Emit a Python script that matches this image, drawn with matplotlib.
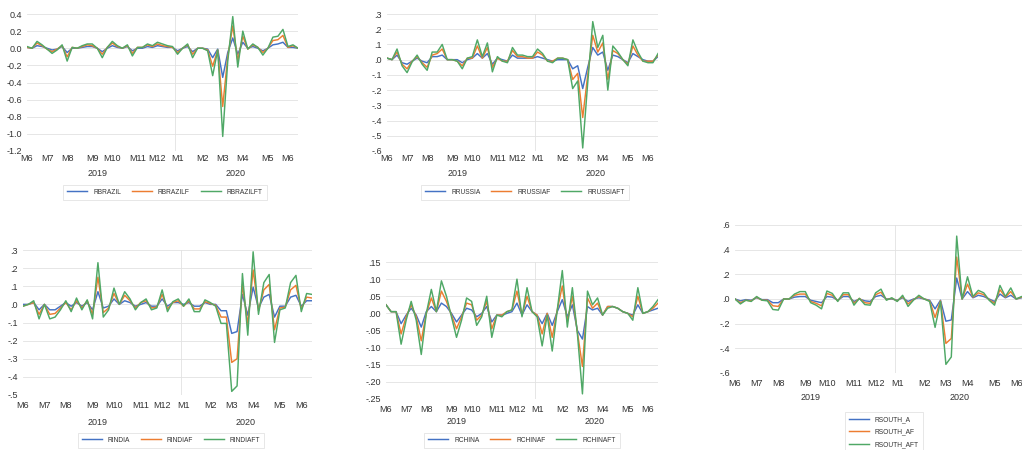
import matplotlib
matplotlib.use("Agg")
import matplotlib.pyplot as plt
import pandas as pd

plt.rcParams["font.family"] = ["Liberation Sans", "DejaVu Sans"]

# Weekly observations (Thursdays), June 2019 to June 2020
weeks = pd.date_range("2019-06-06", periods=55, freq="7D")

COLORS = ["#4472C4", "#ED7D31", "#4FA866"]
TEXT = "#333333"
GRID = "#e2e2e2"

# --- Brazil -------------------------------------------------------------
rbrazil = [
    0.01, 0.00, 0.03, 0.02, 0.00, -0.02, -0.01, 0.02, -0.05, 0.00,
    0.00, 0.01, 0.02, 0.02, 0.00, -0.04, 0.00, 0.03, 0.01, 0.00,
    0.02, -0.03, 0.00, 0.00, 0.02, 0.01, 0.03, 0.02, 0.01, 0.01,
    -0.03, 0.00, 0.02, -0.04, 0.00, 0.00, -0.01, -0.11, -0.01, -0.34,
    -0.05, 0.12, -0.07, 0.07, 0.00, 0.02, 0.00, -0.03, 0.00, 0.04,
    0.05, 0.07, 0.01, 0.01, 0.00,
]
rbrazilf = [
    0.01, 0.00, 0.06, 0.03, -0.01, -0.04, -0.01, 0.03, -0.10, 0.01,
    0.00, 0.02, 0.04, 0.03, 0.00, -0.07, 0.01, 0.06, 0.02, 0.00,
    0.03, -0.06, 0.01, 0.01, 0.04, 0.02, 0.05, 0.03, 0.02, 0.01,
    -0.05, 0.00, 0.04, -0.07, 0.00, 0.00, -0.02, -0.21, -0.02, -0.68,
    -0.10, 0.26, -0.14, 0.14, -0.01, 0.04, 0.01, -0.05, 0.00, 0.09,
    0.10, 0.15, 0.01, 0.03, 0.00,
]
rbrazilft = [
    0.02, 0.00, 0.08, 0.04, -0.01, -0.06, -0.02, 0.04, -0.15, 0.01,
    0.00, 0.03, 0.05, 0.05, 0.00, -0.11, 0.01, 0.08, 0.03, 0.00,
    0.04, -0.09, 0.01, 0.01, 0.05, 0.03, 0.07, 0.05, 0.03, 0.02,
    -0.07, 0.00, 0.05, -0.11, 0.00, 0.00, -0.03, -0.32, -0.02, -1.03,
    -0.15, 0.37, -0.22, 0.20, -0.01, 0.05, 0.01, -0.08, 0.00, 0.13,
    0.14, 0.22, 0.02, 0.04, 0.00,
]

# --- Russia -------------------------------------------------------------
rrussia = [
    0.01, 0.00, 0.03, -0.02, -0.03, -0.01, 0.01, -0.01, -0.02, 0.02,
    0.02, 0.03, 0.00, 0.00, 0.00, -0.02, 0.00, 0.01, 0.04, 0.01,
    0.04, -0.03, 0.01, 0.00, -0.01, 0.03, 0.01, 0.01, 0.01, 0.01,
    0.02, 0.01, 0.00, -0.01, 0.00, 0.00, 0.00, -0.06, -0.04, -0.19,
    -0.05, 0.08, 0.03, 0.05, -0.07, 0.03, 0.02, 0.00, -0.02, 0.04,
    0.02, 0.00, -0.01, -0.01, 0.02,
]
rrussiaf = [
    0.01, 0.00, 0.05, -0.03, -0.06, -0.01, 0.02, -0.02, -0.05, 0.03,
    0.04, 0.07, 0.00, 0.00, -0.01, -0.04, 0.01, 0.01, 0.09, 0.01,
    0.08, -0.05, 0.01, -0.01, -0.01, 0.06, 0.02, 0.02, 0.01, 0.01,
    0.05, 0.03, -0.01, -0.01, 0.01, 0.01, 0.00, -0.13, -0.09, -0.38,
    -0.10, 0.16, 0.05, 0.11, -0.13, 0.06, 0.04, 0.00, -0.03, 0.09,
    0.03, -0.01, -0.01, -0.01, 0.03,
]
rrussiaft = [
    0.01, 0.00, 0.07, -0.04, -0.085, -0.015, 0.03, -0.03, -0.07, 0.05,
    0.05, 0.10, 0.00, 0.00, -0.01, -0.06, 0.01, 0.02, 0.13, 0.02,
    0.11, -0.08, 0.02, -0.01, -0.02, 0.08, 0.03, 0.03, 0.02, 0.02,
    0.07, 0.04, -0.01, -0.02, 0.01, 0.01, 0.00, -0.19, -0.14, -0.58,
    -0.15, 0.25, 0.08, 0.16, -0.20, 0.09, 0.05, 0.00, -0.04, 0.13,
    0.05, -0.01, -0.02, -0.02, 0.04,
]

# --- India --------------------------------------------------------------
rindia = [
    0.00, 0.00, 0.01, -0.03, 0.00, -0.03, -0.03, -0.01, 0.01, -0.01,
    0.01, -0.01, 0.01, -0.03, 0.07, -0.02, -0.01, 0.03, 0.00, 0.02,
    0.01, -0.01, 0.00, 0.01, -0.01, -0.01, 0.03, -0.01, 0.01, 0.01,
    0.00, 0.01, -0.01, -0.01, 0.01, 0.00, 0.00, -0.035, -0.035, -0.16,
    -0.15, 0.055, -0.06, 0.095, -0.02, 0.04, 0.055, -0.07, -0.01, -0.01,
    0.04, 0.05, -0.01, 0.02, 0.02,
]
rindiaf = [
    -0.01, 0.00, 0.01, -0.055, 0.00, -0.055, -0.05, -0.02, 0.01, -0.03,
    0.02, -0.02, 0.02, -0.055, 0.15, -0.045, -0.02, 0.06, 0.00, 0.05,
    0.02, -0.02, 0.01, 0.02, -0.02, -0.015, 0.055, -0.025, 0.01, 0.02,
    -0.01, 0.02, -0.025, -0.025, 0.015, 0.005, -0.005, -0.07, -0.07, -0.32,
    -0.30, 0.11, -0.11, 0.19, -0.035, 0.08, 0.11, -0.14, -0.02, -0.015,
    0.08, 0.105, -0.025, 0.04, 0.035,
]
rindiaft = [
    -0.01, 0.00, 0.02, -0.08, 0.00, -0.08, -0.07, -0.03, 0.02, -0.04,
    0.035, -0.03, 0.025, -0.08, 0.23, -0.07, -0.03, 0.09, 0.00, 0.07,
    0.03, -0.03, 0.01, 0.03, -0.03, -0.02, 0.08, -0.04, 0.015, 0.03,
    -0.01, 0.03, -0.04, -0.04, 0.025, 0.01, -0.01, -0.105, -0.105, -0.48,
    -0.45, 0.17, -0.17, 0.29, -0.055, 0.12, 0.165, -0.21, -0.03, -0.02,
    0.12, 0.16, -0.04, 0.06, 0.055,
]

# --- China --------------------------------------------------------------
rchina = [
    0.025, 0.005, 0.005, -0.03, -0.005, 0.015, -0.005, -0.04, 0.005, 0.02,
    0.005, 0.03, 0.02, 0.00, -0.025, -0.005, 0.015, 0.01, -0.01, 0.00,
    0.02, -0.025, -0.005, -0.005, 0.00, 0.005, 0.03, -0.005, 0.025, 0.005,
    -0.005, -0.03, 0.00, -0.035, 0.005, 0.04, -0.01, 0.025, -0.05, -0.075,
    0.02, 0.01, 0.015, -0.005, 0.02, 0.02, 0.015, 0.005, 0.00, -0.005,
    0.025, 0.00, 0.005, 0.01, 0.015,
]
rchinaf = [
    0.025, 0.005, 0.005, -0.06, -0.01, 0.025, -0.01, -0.08, 0.00, 0.045,
    0.005, 0.065, 0.035, -0.005, -0.045, -0.01, 0.03, 0.025, -0.02, -0.005,
    0.035, -0.045, -0.005, -0.005, 0.005, 0.01, 0.065, -0.005, 0.05, 0.005,
    -0.005, -0.06, 0.00, -0.07, 0.01, 0.08, -0.025, 0.05, -0.055, -0.155,
    0.045, 0.015, 0.03, -0.005, 0.02, 0.02, 0.015, 0.005, 0.00, -0.01,
    0.05, 0.00, 0.005, 0.015, 0.03,
]
rchinaft = [
    0.025, 0.005, 0.005, -0.09, -0.02, 0.035, -0.02, -0.12, 0.00, 0.07,
    0.005, 0.095, 0.05, -0.01, -0.07, -0.02, 0.045, 0.035, -0.035, -0.01,
    0.05, -0.07, -0.005, -0.01, 0.005, 0.01, 0.10, -0.01, 0.075, 0.005,
    -0.01, -0.095, -0.005, -0.11, 0.01, 0.125, -0.04, 0.075, -0.06, -0.235,
    0.065, 0.025, 0.045, -0.005, 0.015, 0.02, 0.015, 0.005, 0.00, -0.02,
    0.075, 0.00, 0.005, 0.02, 0.04,
]

# --- South Africa -------------------------------------------------------
rsouth_a = [
    0.00, -0.015, -0.005, -0.01, 0.01, -0.005, -0.005, -0.03, -0.03, 0.00,
    0.00, 0.015, 0.02, 0.02, -0.01, -0.02, -0.03, 0.02, 0.015, -0.01,
    0.02, 0.02, -0.02, 0.00, -0.015, -0.02, 0.02, 0.03, 0.00, 0.00,
    -0.01, 0.01, -0.02, 0.00, 0.01, 0.00, -0.01, -0.08, -0.01, -0.18,
    -0.17, 0.17, 0.00, 0.06, 0.01, 0.03, 0.02, 0.00, -0.02, 0.04,
    0.01, 0.03, 0.00, 0.01, 0.01,
]
rsouth_af = [
    0.00, -0.03, -0.01, -0.015, 0.015, -0.01, -0.01, -0.055, -0.06, 0.00,
    0.00, 0.03, 0.04, 0.04, -0.02, -0.035, -0.055, 0.045, 0.03, -0.015,
    0.035, 0.035, -0.035, 0.005, -0.03, -0.035, 0.035, 0.055, -0.005, 0.005,
    -0.015, 0.02, -0.04, -0.005, 0.02, 0.00, -0.015, -0.15, -0.015, -0.36,
    -0.32, 0.34, 0.00, 0.12, 0.015, 0.05, 0.035, -0.005, -0.035, 0.075,
    0.015, 0.06, 0.00, 0.015, 0.015,
]
rsouth_aft = [
    0.00, -0.04, -0.01, -0.02, 0.02, -0.01, -0.015, -0.085, -0.09, 0.00,
    0.00, 0.04, 0.06, 0.06, -0.03, -0.05, -0.08, 0.065, 0.045, -0.02,
    0.05, 0.05, -0.05, 0.005, -0.045, -0.05, 0.05, 0.08, -0.01, 0.01,
    -0.02, 0.03, -0.06, -0.01, 0.03, 0.00, -0.02, -0.23, -0.02, -0.53,
    -0.47, 0.51, 0.00, 0.18, 0.02, 0.07, 0.05, -0.01, -0.05, 0.11,
    0.02, 0.09, 0.00, 0.02, 0.02,
]

brazil_yticks = [0.4, 0.2, 0.0, -0.2, -0.4, -0.6, -0.8, -1.0, -1.2]
russia_yticks = [0.3, 0.2, 0.1, 0.0, -0.1, -0.2, -0.3, -0.4, -0.5, -0.6]
india_yticks = [0.3, 0.2, 0.1, 0.0, -0.1, -0.2, -0.3, -0.4, -0.5]
china_yticks = [0.15, 0.10, 0.05, 0.0, -0.05, -0.10, -0.15, -0.20, -0.25]
south_yticks = [0.6, 0.4, 0.2, 0.0, -0.2, -0.4, -0.6]

W, H = 1022, 450
fig = plt.figure(figsize=(W / 100, H / 100), dpi=100)

x = list(range(len(weeks)))
month_idx = [i for i in x if i == 0 or weeks[i].month != weeks[i - 1].month]
month_lbl = [f"M{weeks[i].month}" for i in month_idx]
years = sorted(set(weeks.year))
year_idx = {y: [i for i in x if weeks[i].year == y] for y in years}


def tick_text(values, decimals, strip_zero):
    out = []
    for v in values:
        s = f"{v:.{decimals}f}"
        if strip_zero:
            s = s.replace("0.", ".", 1)
        out.append(s)
    return out


def draw_panel(box, series, names, yticks, decimals, strip_zero,
               xpad, year_off, legend_at, ncol):
    x0, x1, ytop, ybot = box
    ax = fig.add_axes([x0 / W, 1 - ybot / H, (x1 - x0) / W, (ybot - ytop) / H])
    for vals, name, color in zip(series, names, COLORS):
        ax.plot(x, vals, color=color, lw=1.05, label=name)

    ax.set_xlim(0, len(x) - 1)
    ax.set_ylim(min(yticks), max(yticks))
    ax.set_yticks(yticks)
    ax.set_yticklabels(tick_text(yticks, decimals, strip_zero))
    ax.set_xticks(month_idx)
    ax.set_xticklabels(month_lbl)
    ax.tick_params(length=0, labelsize=6.5, colors=TEXT)
    ax.tick_params(axis="x", pad=xpad)
    ax.tick_params(axis="y", pad=3.5)
    for side in ax.spines.values():
        side.set_visible(False)
    ax.grid(axis="y", color=GRID, lw=0.6)
    ax.set_axisbelow(True)
    # faint divider between the two calendar years
    ax.axvline(year_idx[years[1]][0] - 0.5, color=GRID, lw=0.6, zorder=0)

    for y in years:
        idx = year_idx[y]
        ax.annotate(str(y), xy=((idx[0] + idx[-1]) / 2 - 0.5, 0),
                    xycoords=("data", "axes fraction"),
                    xytext=(0, -year_off), textcoords="offset points",
                    ha="center", va="center", fontsize=6.5, color=TEXT)

    leg = fig.legend(*ax.get_legend_handles_labels(), loc="center",
                     bbox_to_anchor=(legend_at[0] / W, 1 - legend_at[1] / H),
                     ncol=ncol, fontsize=4.8, frameon=True, fancybox=False,
                     handlelength=3.0, handletextpad=0.9, columnspacing=1.6,
                     labelspacing=0.8, borderpad=0.6)
    leg.get_frame().set_edgecolor("#dcdcdc")
    leg.get_frame().set_linewidth(0.6)
    for t in leg.get_texts():
        t.set_color(TEXT)
    return ax


draw_panel((27, 298, 14, 151), [rbrazil, rbrazilf, rbrazilft],
           ["RBRAZIL", "RBRAZILF", "RBRAZILFT"], brazil_yticks, 1, False,
           2.5, 16.5, (165, 192), 3)
draw_panel((387, 658, 14, 151), [rrussia, rrussiaf, rrussiaft],
           ["RRUSSIA", "RRUSSIAF", "RRUSSIAFT"], russia_yticks, 1, True,
           2.5, 16.5, (525, 192), 3)
draw_panel((23, 312, 250, 395), [rindia, rindiaf, rindiaft],
           ["RINDIA", "RINDIAF", "RINDIAFT"], india_yticks, 1, True,
           4.5, 19.5, (171, 440), 3)
draw_panel((386, 658, 262, 399), [rchina, rchinaf, rchinaft],
           ["RCHINA", "RCHINAF", "RCHINAFT"], china_yticks, 2, True,
           4.0, 16.5, (522, 440), 3)
draw_panel((735, 1027, 225, 373), [rsouth_a, rsouth_af, rsouth_aft],
           ["RSOUTH_A", "RSOUTH_AF", "RSOUTH_AFT"], south_yticks, 1, True,
           4.5, 18.0, (884, 432), 1)

fig.savefig("out.png", dpi=100, facecolor="white")
